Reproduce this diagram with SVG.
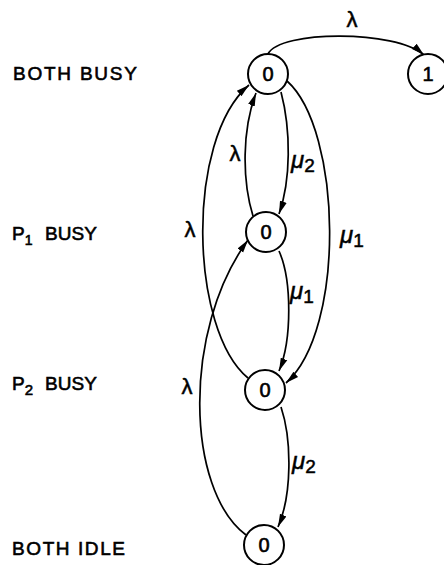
<svg xmlns="http://www.w3.org/2000/svg" width="444" height="565" viewBox="0 0 444 565">
<style>
.node circle{fill:#fff;stroke:#000;stroke-width:2}
.node text{font-family:"Liberation Sans",Arial,sans-serif;font-size:20px;text-anchor:middle;fill:#000;stroke:#000;stroke-width:0.6}
.lbl{font-family:"Liberation Sans",Arial,sans-serif;font-size:19px;fill:#000;stroke:#000;stroke-width:0.6}
.edge{fill:none;stroke:#000;stroke-width:1.7;marker-end:url(#arr)}
.lam{font-family:"Liberation Sans",Arial,sans-serif;font-size:22px;fill:#000;text-anchor:middle;stroke:#000;stroke-width:0.5}
.mu{font-family:"Liberation Sans",Arial,sans-serif;font-size:24px;font-style:italic;fill:#000;stroke:#000;stroke-width:0.5}
.sub{font-style:normal;font-size:19px}
</style>
<defs>
<marker id="arr" markerUnits="userSpaceOnUse" markerWidth="14" markerHeight="10" viewBox="0 0 14 10" refX="13" refY="5" orient="auto">
<path d="M0,1.5 L13,5 L0,8.5 Z" fill="#000"/>
</marker>
</defs>
<rect width="444" height="565" fill="#fff"/>
<g id="state-labels">
<text class="lbl" x="13" y="80" textLength="124" lengthAdjust="spacing">BOTH BUSY</text>
<text class="lbl" x="12" y="240">P<tspan font-size="14" dy="5">1</tspan><tspan dy="-5" x="45" textLength="52" lengthAdjust="spacing">BUSY</tspan></text>
<text class="lbl" x="12" y="390">P<tspan font-size="15" dy="5">2</tspan><tspan dy="-5" x="45" textLength="52" lengthAdjust="spacing">BUSY</tspan></text>
<text class="lbl" x="12" y="555" textLength="113" lengthAdjust="spacing">BOTH IDLE</text>
</g>
<g id="connectors">
<path class="edge" d="M268,54 C280,30 396,30 424,55"/>
<path class="edge" d="M281,92 C291,130 291,180 279,214"/>
<path class="edge" d="M253,216 C242,180 242,130 256,93"/>
<path class="edge" d="M287,81 C342,130 346,330 286,383"/>
<path class="edge" d="M279,251 C292,280 292,340 279,371"/>
<path class="edge" d="M248,378 C190,330 185,140 249,85"/>
<path class="edge" d="M246,535 C186,490 182,330 248,240"/>
<path class="edge" d="M281,407 C292,440 292,495 278,527"/>
<text class="lam" x="352" y="27">λ</text>
<text class="mu" x="291" y="168">μ<tspan class="sub" dy="4">2</tspan></text>
<text class="lam" x="235" y="161">λ</text>
<text class="mu" x="340" y="243">μ<tspan class="sub" dy="4">1</tspan></text>
<text class="mu" x="290" y="299">μ<tspan class="sub" dy="4">1</tspan></text>
<text class="lam" x="190" y="237">λ</text>
<text class="lam" x="187" y="394">λ</text>
<text class="mu" x="292" y="469">μ<tspan class="sub" dy="4">2</tspan></text>
</g>
<g id="node-both-busy" class="node"><circle cx="268" cy="74" r="20"/><text x="268" y="81">0</text></g>
<g id="node-one" class="node"><circle cx="428" cy="74" r="20"/><text x="428" y="81">1</text></g>
<g id="node-p1-busy" class="node"><circle cx="266" cy="232" r="20"/><text x="266" y="239">0</text></g>
<g id="node-p2-busy" class="node"><circle cx="265" cy="390" r="20"/><text x="265" y="397">0</text></g>
<g id="node-both-idle" class="node"><circle cx="264" cy="545" r="20"/><text x="264" y="552">0</text></g>
</svg>
